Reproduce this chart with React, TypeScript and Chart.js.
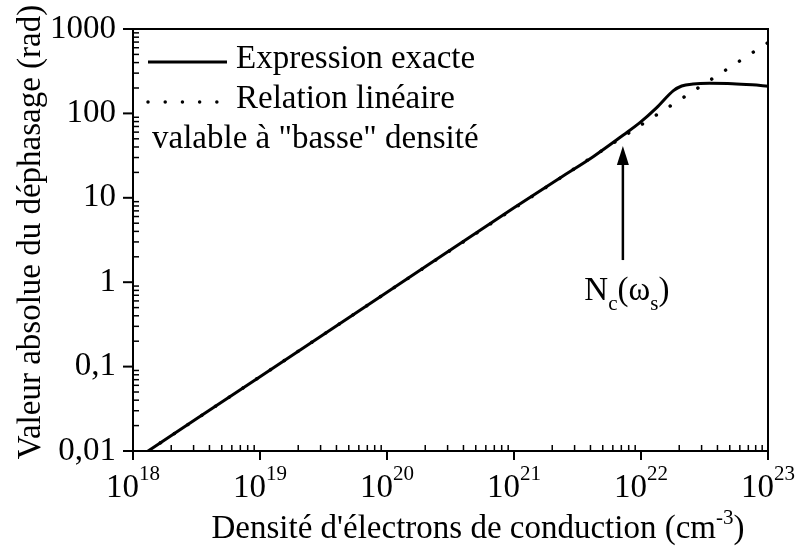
import React, { useEffect, useRef } from "react";
import { Chart, registerables } from "chart.js";
Chart.register(...registerables);

// ---- data ----
const densities = [1e18, 1e19, 1e20, 1e21, 2.3e21, 4.2e21, 7.26e21, 9.8e21, 1.33e22, 1.8e22, 2.09e22, 2.57e22, 3.47e22, 5.25e22, 7.5e22, 1e23];
const exactPhase = [0.0076, 0.076, 0.76, 7.6, 17.2, 30.7, 55.5, 77.6, 117, 186, 211, 223, 227, 225, 218, 210];
const linearDensities = [1e18, 1e19, 1e20, 1e21, 1e22, 1e23];
const linearPhase = [0.0076, 0.076, 0.76, 7.5, 73, 690];
const xTickExponents = [18, 19, 20, 21, 22, 23];
const yTickValues = [0.01, 0.1, 1, 10, 100, 1000];
const yTickLabels = ["0,01", "0,1", "1", "10", "100", "1000"];
const criticalDensity = 7.2e21;
const arrowTipValue = 41;
const arrowTailValue = 1.83;
const arrowLabelValue = 0.62;

const FONT = "'Liberation Serif', 'Times New Roman', serif";
const f = (s: number) => `${s}px ${FONT}`;

const overlay = {
  id: "overlay",
  afterDraw(chart: any) {
    const ctx: CanvasRenderingContext2D = chart.ctx;
    const { left, right, top, bottom } = chart.chartArea;
    const xs = chart.scales.x;
    const ys = chart.scales.y;
    ctx.save();
    ctx.strokeStyle = "#000";
    ctx.fillStyle = "#000";
    ctx.lineWidth = 2;
    ctx.strokeRect(left, top, right - left, bottom - top);

    // x axis ticks and labels
    ctx.textBaseline = "alphabetic";
    xTickExponents.forEach((e, i) => {
      const px = xs.getPixelForValue(Math.pow(10, e));
      ctx.lineWidth = 2;
      ctx.beginPath();
      ctx.moveTo(px, bottom);
      ctx.lineTo(px, bottom + 9);
      ctx.stroke();
      if (i < xTickExponents.length - 1) {
        ctx.lineWidth = 1.5;
        for (let m = 2; m <= 9; m++) {
          const p = xs.getPixelForValue(m * Math.pow(10, e));
          ctx.beginPath();
          ctx.moveTo(p, bottom);
          ctx.lineTo(p, bottom - 6);
          ctx.stroke();
        }
      }
      ctx.font = f(33);
      const w1 = ctx.measureText("10").width;
      ctx.font = f(21);
      const w2 = ctx.measureText(String(e)).width;
      const start = px - (w1 + w2) / 2;
      ctx.textAlign = "left";
      ctx.font = f(33);
      ctx.fillText("10", start, 497);
      ctx.font = f(21);
      ctx.fillText(String(e), start + w1, 480);
    });

    // y axis ticks and labels
    yTickValues.forEach((v, i) => {
      const py = ys.getPixelForValue(v);
      ctx.lineWidth = 2;
      ctx.beginPath();
      ctx.moveTo(left, py);
      ctx.lineTo(left - 10, py);
      ctx.stroke();
      if (i < yTickValues.length - 1) {
        ctx.lineWidth = 1.5;
        for (let m = 2; m <= 9; m++) {
          const p = ys.getPixelForValue(m * v);
          ctx.beginPath();
          ctx.moveTo(left, p);
          ctx.lineTo(left + 6, p);
          ctx.stroke();
        }
      }
      ctx.font = f(33);
      ctx.textAlign = "right";
      ctx.textBaseline = "middle";
      ctx.fillText(yTickLabels[i], left - 17, py);
    });

    // x axis title
    ctx.textBaseline = "alphabetic";
    ctx.textAlign = "left";
    const parts: [string, number, number][] = [
      ["Densité d'électrons de conduction (cm", 33, 0],
      ["-3", 21, -14],
      [")", 33, 0],
    ];
    let total = 0;
    parts.forEach(([t, s]) => { ctx.font = f(s); total += ctx.measureText(t).width; });
    let x = 478 - total / 2;
    parts.forEach(([t, s, dy]) => {
      ctx.font = f(s);
      ctx.fillText(t, x, 538 + dy);
      x += ctx.measureText(t).width;
    });

    // y axis title
    ctx.save();
    ctx.translate(40, 232);
    ctx.rotate(-Math.PI / 2);
    ctx.font = f(33);
    ctx.textAlign = "center";
    ctx.fillText("Valeur absolue du déphasage (rad)", 0, 0);
    ctx.restore();

    // legend
    ctx.lineWidth = 3;
    ctx.lineCap = "butt";
    ctx.beginPath();
    ctx.moveTo(148, 62);
    ctx.lineTo(227, 62);
    ctx.stroke();
    ctx.save();
    ctx.lineWidth = 3.5;
    ctx.lineCap = "round";
    ctx.setLineDash([0.01, 17.2]);
    ctx.beginPath();
    ctx.moveTo(148, 102);
    ctx.lineTo(220, 102);
    ctx.stroke();
    ctx.restore();
    ctx.font = f(33);
    ctx.textAlign = "left";
    ctx.fillText("Expression exacte", 236, 68);
    ctx.fillText("Relation linéaire", 236, 108);
    ctx.fillText("valable à \"basse\" densité", 152, 148);

    // arrow
    const ax = xs.getPixelForValue(criticalDensity);
    const tipY = ys.getPixelForValue(arrowTipValue);
    const tailY = ys.getPixelForValue(arrowTailValue);
    ctx.lineWidth = 2.5;
    ctx.beginPath();
    ctx.moveTo(ax, tailY);
    ctx.lineTo(ax, tipY + 15);
    ctx.stroke();
    ctx.beginPath();
    ctx.moveTo(ax, tipY);
    ctx.lineTo(ax - 6, tipY + 19);
    ctx.lineTo(ax + 6, tipY + 19);
    ctx.closePath();
    ctx.fill();

    // arrow label N_c(ω_s)
    const labY = ys.getPixelForValue(arrowLabelValue);
    const lab: [string, number, number][] = [
      ["N", 33, 0], ["c", 21, 10], ["(ω", 33, 0], ["s", 21, 10], [")", 33, 0],
    ];
    let lw = 0;
    lab.forEach(([t, s]) => { ctx.font = f(s); lw += ctx.measureText(t).width; });
    let lx = ax + 4 - lw / 2;
    lab.forEach(([t, s, dy]) => {
      ctx.font = f(s);
      ctx.fillText(t, lx, labY + dy);
      lx += ctx.measureText(t).width;
    });
    ctx.restore();
  },
};

export default function App() {
  const ref = useRef<HTMLCanvasElement | null>(null);
  useEffect(() => {
    document.body.style.margin = "0";
    const canvas = ref.current;
    if (!canvas) return;
    const chart = new Chart(canvas, {
      type: "line",
      data: {
        datasets: [
          {
            label: "Expression exacte",
            data: densities.map((d, i) => ({ x: d, y: exactPhase[i] })),
            borderColor: "#000",
            borderWidth: 3,
            pointRadius: 0,
            cubicInterpolationMode: "monotone",
            fill: false,
            clip: 0,
          } as any,
          {
            label: "Relation linéaire valable à \"basse\" densité",
            data: linearDensities.map((d, i) => ({ x: d, y: linearPhase[i] })),
            borderColor: "#000",
            borderWidth: 3.5,
            borderDash: [0.01, 16.5],
            borderCapStyle: "round",
            pointRadius: 0,
            tension: 0,
            fill: false,
            clip: 0,
          } as any,
        ],
      },
      options: {
        responsive: false,
        animation: false,
        devicePixelRatio: 1,
        layout: { padding: { left: 133, right: 29, top: 29, bottom: 100 } },
        plugins: { legend: { display: false }, tooltip: { enabled: false } },
        scales: {
          x: { type: "logarithmic", min: 1e18, max: 1e23, display: false },
          y: { type: "logarithmic", min: 0.01, max: 1000, display: false },
        },
      },
      plugins: [overlay],
    });
    return () => chart.destroy();
  }, []);
  return <canvas ref={ref} width={797} height={551} style={{ display: "block" }} />;
}
